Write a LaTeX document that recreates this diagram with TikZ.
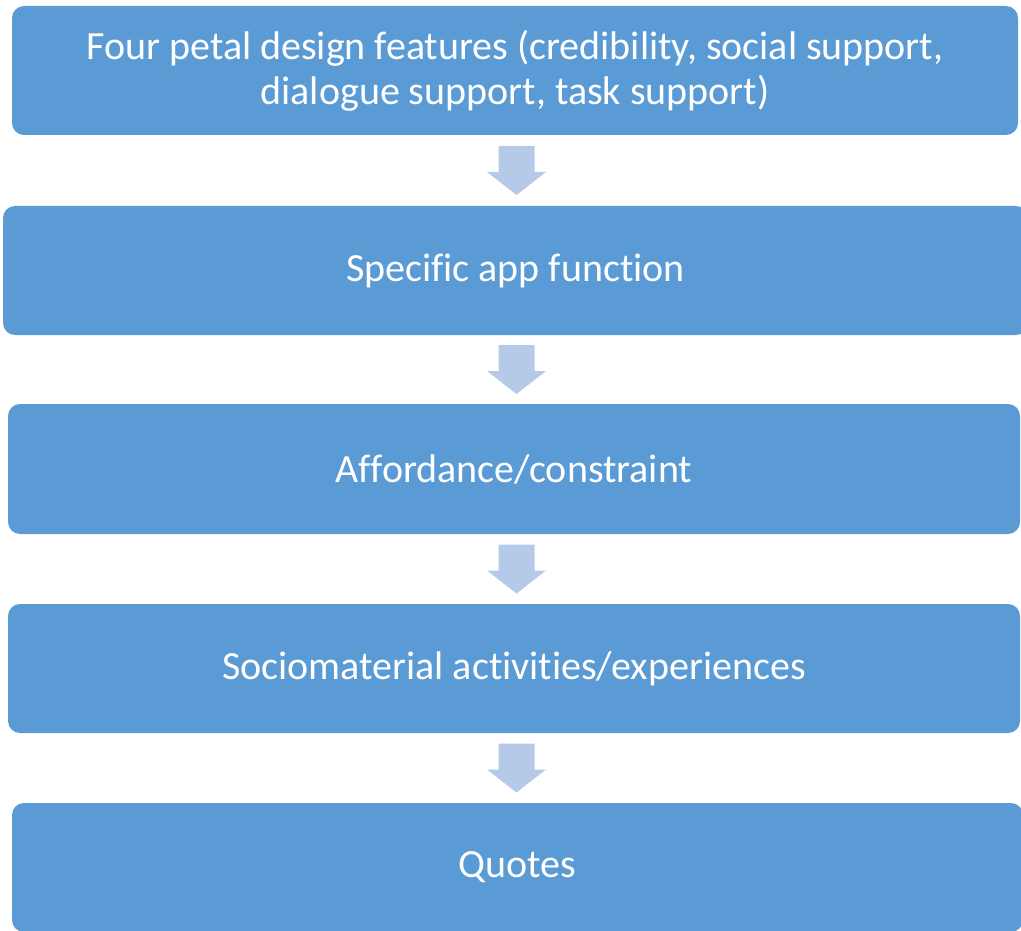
\documentclass[tikz,border=0pt]{standalone}
\usepackage{fontspec}
\setmainfont{Carlito}[Ligatures=NoCommon]
\usetikzlibrary{calc}
\definecolor{boxblue}{HTML}{5B9BD5}
\definecolor{arrowblue}{HTML}{B5C9E8}
\tikzset{
  stagebox/.style={rectangle, rounded corners=12pt, fill=boxblue, text=white,
    align=center, inner sep=0pt,
    font=\fontsize{40pt}{45pt}\selectfont},
  downarrow/.pic={
    \fill[arrowblue] (-18,-24.5) -- (18,-24.5) -- (18,1.5) -- (29.5,1.5)
      -- (0,24.5) -- (-29.5,1.5) -- (-18,1.5) -- cycle;
  }
}
\begin{document}
\begin{tikzpicture}[x=1pt,y=-1pt]
  \useasboundingbox (0,0) rectangle (1021,931);
  \clip (0,0) rectangle (1021,931);
  % five stages of the analysis
  \node[stagebox, minimum width=1006pt, minimum height=129pt] (b1) at (515,70.5)
    {Four petal design features (credibility, social support,\\dialogue support, task support)};
  \node[stagebox, minimum width=1025pt, minimum height=129pt] (b2) at (515.5,270.5)
    {Specific app function};
  \node[stagebox, minimum width=1012pt, minimum height=130pt] (b3) at (514,469)
    {Affordance/constraint};
  \node[stagebox, minimum width=1012pt, minimum height=129pt] (b4) at (514,668.5)
    {Sociomaterial activities/experiences};
  \node[stagebox, minimum width=1011pt, minimum height=129pt] (b5) at (517.5,867.5)
    {Quotes};
  % block arrows between consecutive stages, on a common vertical axis
  \coordinate (axis) at (516.5,0);
  \foreach \a/\b in {b1/b2, b2/b3, b3/b4, b4/b5}{
    \coordinate (mid) at ($(\a.south)!0.5!(\b.north)$);
    \path (axis |- mid) pic {downarrow};
  }
\end{tikzpicture}
\end{document}
